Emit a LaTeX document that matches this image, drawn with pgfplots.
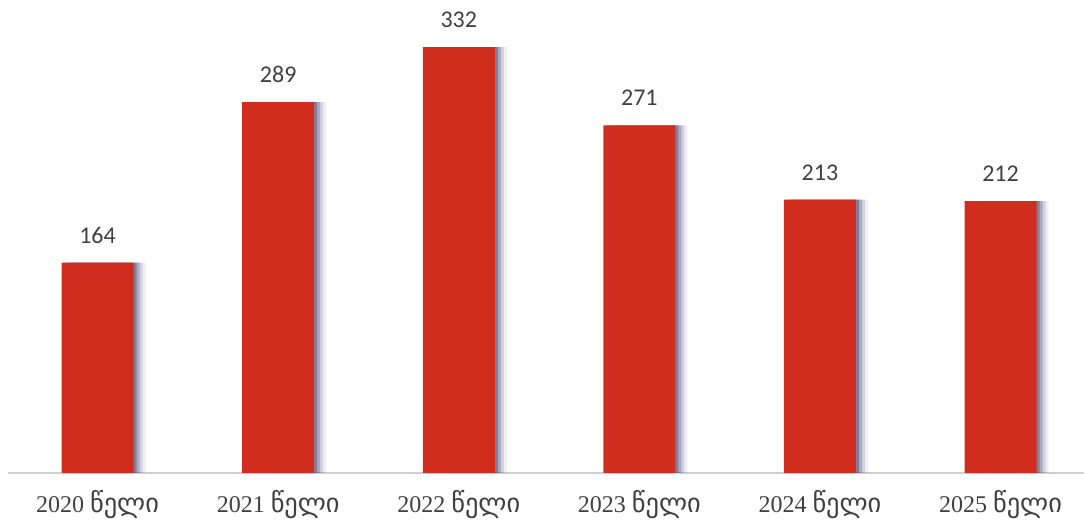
\documentclass[border=0pt]{standalone}
\usepackage{fontspec}
\setmainfont{Liberation Serif}
\newfontfamily\geo[Scale=1.1]{DejaVu Sans}
\newfontfamily\carlito{Carlito}
\usepackage{pgfplots}
\pgfplotsset{compat=1.18}
\definecolor{barred}{RGB}{209,45,31}
\definecolor{txt}{RGB}{64,64,64}
\definecolor{axgray}{RGB}{208,208,208}
\definecolor{shad}{RGB}{50,45,95}
\pgfplotstableread{
x y
0 164
1 289
2 332
3 271
4 213
5 212
}\bardata
\begin{document}
\begin{tikzpicture}
\begin{axis}[
  scale only axis,
  width=538pt, height=236.5pt,
  xmin=-0.496, xmax=5.462,
  ymin=0, ymax=368.7,
  axis x line=bottom, axis y line=none,
  axis line style={draw=axgray, line width=0.75pt, -},
  major tick length=0pt,
  ytick=\empty,
  xtick=data,
  xticklabels={2020 {\geo წელი},2021 {\geo წელი},2022 {\geo წელი},2023 {\geo წელი},2024 {\geo წელი},2025 {\geo წელი}},
  xticklabel style={font=\fontsize{12}{12}\selectfont, text=txt, yshift=-5pt},
  ybar, bar width=36pt,
  clip=false,
  /pgf/number format/assume math mode=true,
]
\addplot[fill=shad, draw=none, fill opacity=0.35, bar shift=1.5pt, forget plot] table[x=x,y=y] {\bardata};
\addplot[fill=shad, draw=none, fill opacity=0.25, bar shift=3pt, forget plot] table[x=x,y=y] {\bardata};
\addplot[fill=shad, draw=none, fill opacity=0.15, bar shift=4.5pt, forget plot] table[x=x,y=y] {\bardata};
\addplot[fill=shad, draw=none, fill opacity=0.08, bar shift=6pt, forget plot] table[x=x,y=y] {\bardata};
\addplot[fill=barred, draw=none, bar shift=0pt,
  nodes near coords,
  every node near coord/.append style={font=\carlito\fontsize{12}{12}\selectfont, text=txt, anchor=south, inner sep=0pt, yshift=9.5pt}]
  table[x=x,y=y] {\bardata};
\end{axis}
\pgfresetboundingbox
\path (-4pt,-24.5pt) rectangle (538pt,236.5pt);
\end{tikzpicture}
\end{document}
